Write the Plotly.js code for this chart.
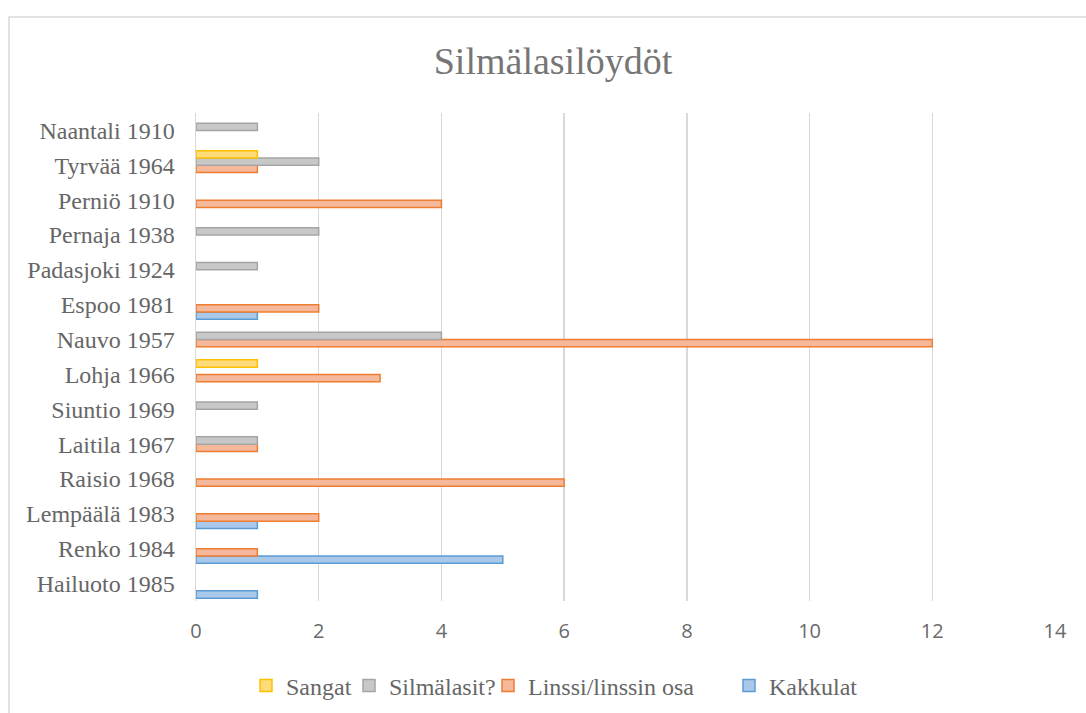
<!DOCTYPE html>
<html><head><meta charset="utf-8">
<script src="https://cdn.plot.ly/plotly-3.0.1.min.js"></script>
<style>html,body{margin:0;padding:0;background:#fff;}#chart{width:1086px;height:713px;}</style>
</head><body><div id="chart"></div>
<script>
const categories = ["Hailuoto 1985","Renko 1984","Lempäälä 1983","Raisio 1968","Laitila 1967","Siuntio 1969","Lohja 1966","Nauvo 1957","Espoo 1981","Padasjoki 1924","Pernaja 1938","Perniö 1910","Tyrvää 1964","Naantali 1910"];
const kakkulat = [1,5,1,null,null,null,null,null,1,null,null,null,null,null];
const linssi   = [null,1,2,6,1,null,3,12,2,null,null,4,1,null];
const silmalasit = [null,null,null,null,1,1,null,4,null,1,2,null,2,1];
const sangat   = [null,null,null,null,null,null,1,null,null,null,null,null,1,null];
const seriesNames = ["Kakkulat","Linssi/linssin osa","Silmälasit?","Sangat"];
const xTicks = [0,2,4,6,8,10,12,14];

const fills = ["#A9C8EA","#F5B89A","#C8C8C8","#FFDB7A"];
const lines = ["#5B9BD5","#ED7D31","#A5A5A5","#FFC000"];
const vals = [kakkulat, linssi, silmalasit, sangat];
const legendIds = ["legend4","legend3","legend2","legend"];
// legend symbol centre x positions (pixels)
const legendX = [751, 510, 371, 268];

const traces = vals.map((v,i)=>({
  type:'bar', orientation:'h', name:seriesNames[i], y:categories, x:v,
  legend:legendIds[i],
  marker:{color:fills[i], line:{color:lines[i], width:1.5}},
  hoverinfo:'x+y'
}));

const W=1086,H=713,L=196,R=31,T=113,B=112;
const pw=W-L-R, ph=H-T-B;
const px = x => (x-L)/pw, py = y => (H-B-y)/ph;
const serif = 'Liberation Serif, Times New Roman, serif';

const layout = {
  width:W, height:H,
  margin:{l:L,r:R,t:T,b:B, autoexpand:false},
  paper_bgcolor:'#fff', plot_bgcolor:'#fff',
  title:{text:'Silmälasilöydöt', x:553/W, xanchor:'center', y:1-61/H, yanchor:'middle',
    font:{family:serif, size:38, color:'#767676'}},
  barmode:'group', bargap:0.162, bargroupgap:0,
  xaxis:{range:[0,14], tickvals:xTicks, ticktext:xTicks.map(String), showgrid:true, gridcolor:'#D9D9D9', gridwidth:1.5,
    zeroline:false, showline:false, ticks:'', ticklen:0, automargin:false, ticklabelstandoff:16,
    tickfont:{family:'Open Sans, Liberation Sans, sans-serif', size:20, color:'#6A6A6A'}},
  yaxis:{type:'category', categoryorder:'array', categoryarray:categories, showgrid:false, zeroline:false, automargin:false,
    showline:true, linecolor:'#D9D9D9', linewidth:1.5, ticks:'', ticklabelstandoff:15,
    tickfont:{family:serif, size:24, color:'#666666'}},
  shapes:[{type:'rect', xref:'paper', yref:'paper', x0:px(9), x1:px(1095), y0:py(722), y1:py(17),
    line:{color:'#D9D9D9', width:1.5}, fillcolor:'rgba(0,0,0,0)', layer:'below'}],
  showlegend:true
};
legendIds.forEach((id,i)=>{
  layout[id] = {orientation:'h', xref:'container', yref:'container', x:(legendX[i]-22)/W, xanchor:'left',
    y:1-686/H, yanchor:'middle', font:{family:serif, size:24, color:'#666666'},
    itemwidth:30, bgcolor:'rgba(0,0,0,0)', borderwidth:0};
});
Plotly.newPlot('chart', traces, layout, {displayModeBar:false, staticPlot:true});
</script></body></html>
